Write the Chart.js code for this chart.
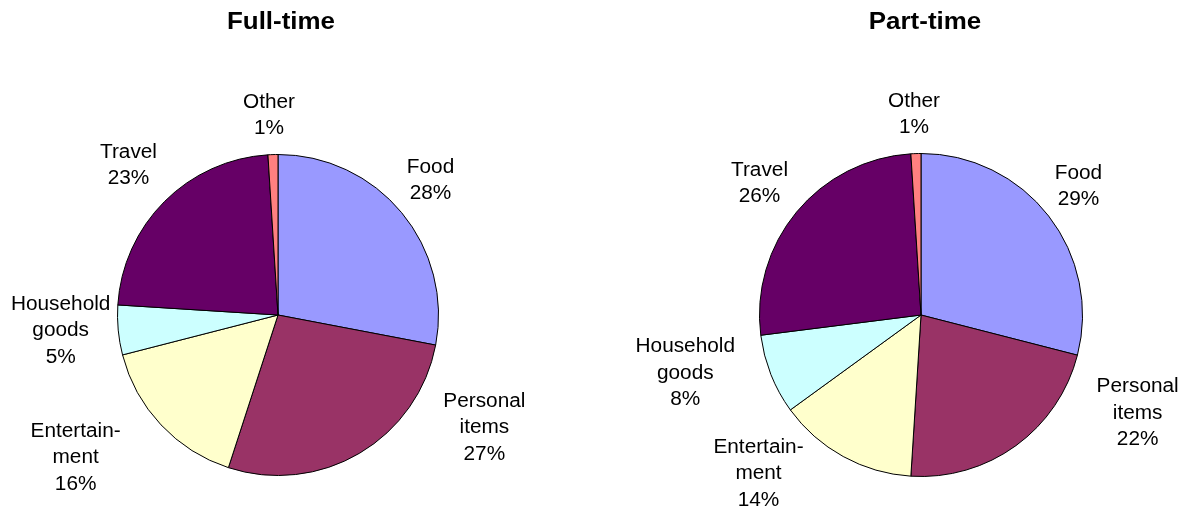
<!DOCTYPE html>
<html>
<head>
<meta charset="utf-8">
<script src="https://cdn.jsdelivr.net/npm/chart.js@4/dist/chart.umd.min.js"></script>
<style>
  html, body { margin: 0; padding: 0; background: #fff; }
  #wrap { position: relative; width: 1184px; height: 508px; }
  .box { position: absolute; top: 0; width: 592px; height: 508px; }
</style>
</head>
<body>
<div id="wrap">
  <div class="box" style="left:0"><canvas id="c1"></canvas></div>
  <div class="box" style="left:592px"><canvas id="c2"></canvas></div>
</div>
<script>
// ---- data ----
const categories = ["Food", "Personal items", "Entertainment", "Household goods", "Travel", "Other"];
const labelLines = [["Food"], ["Personal", "items"], ["Entertain-", "ment"], ["Household", "goods"], ["Travel"], ["Other"]];
const fullTimeValues = [28, 27, 16, 5, 23, 1];
const partTimeValues = [29, 22, 14, 8, 26, 1];
const titles = ["Full-time", "Part-time"];

// ---- styles / layout ----
const colors = ["#9999FF", "#993366", "#FFFFCC", "#CCFFFF", "#660066", "#FF8080"];
// label block centre offsets from pie centre (px at radius 161)
const fullOffsets = [[153,-135],[207,113],[-203,143],[-218,16],[-150,-150],[-9,-200]];
const partOffsets = [[157,-128],[216,98],[-162,158],[-235,58],[-161,-131],[-7,-200]];

const FONT = '"Liberation Sans", Arial, sans-serif';

function drawText(ctx, t, x, y, sx) {
  ctx.save();
  ctx.translate(x, y);
  ctx.scale(sx, 1);
  ctx.fillText(t, 0, 0);
  ctx.restore();
}

const labelPlugin = {
  id: 'pieLabels',
  afterDraw(chart, args, opts) {
    const ctx = chart.ctx;
    const meta = chart.getDatasetMeta(0);
    const arc0 = meta.data[0];
    const cx = arc0.x, cy = arc0.y, r = arc0.outerRadius;
    ctx.save();
    ctx.fillStyle = '#000';
    ctx.textAlign = 'center';
    ctx.textBaseline = 'middle';
    // title
    ctx.font = 'bold 24px ' + FONT;
    drawText(ctx, opts.title, cx + opts.titleDx, opts.titleY, 1.08);
    // labels
    ctx.font = '20px ' + FONT;
    const lh = 26.5;
    const vals = chart.data.datasets[0].data;
    const total = vals.reduce((a, b) => a + b, 0);
    meta.data.forEach((arc, i) => {
      const lines = labelLines[i].concat([Math.round(vals[i] / total * 100) + '%']);
      const off = opts.offsets[i];
      const x = cx + off[0] / 161 * r;
      const y = cy + off[1] / 161 * r;
      const y0 = y - (lines.length - 1) * lh / 2;
      lines.forEach((t, k) => drawText(ctx, t, x, y0 + k * lh, 1.04));
    });
    ctx.restore();
  }
};

function makePie(id, values, title, offsets, padding, titleDx) {
  return new Chart(document.getElementById(id), {
    type: 'pie',
    data: {
      labels: categories,
      datasets: [{
        data: values,
        backgroundColor: colors,
        borderColor: '#000000',
        borderWidth: 1,
        hoverOffset: 0
      }]
    },
    options: {
      responsive: true,
      maintainAspectRatio: false,
      animation: false,
      layout: { padding: padding },
      plugins: {
        legend: { display: false },
        tooltip: { enabled: false },
        title: { display: false },
        pieLabels: { title: title, offsets: offsets, titleY: 22, titleDx: titleDx }
      }
    },
    plugins: [labelPlugin]
  });
}

makePie('c1', fullTimeValues, titles[0], fullOffsets, { left: 117, right: 153, top: 154, bottom: 32 }, 3);
makePie('c2', partTimeValues, titles[1], partOffsets, { left: 167, right: 101, top: 153, bottom: 31 }, 4);
</script>
</body>
</html>
